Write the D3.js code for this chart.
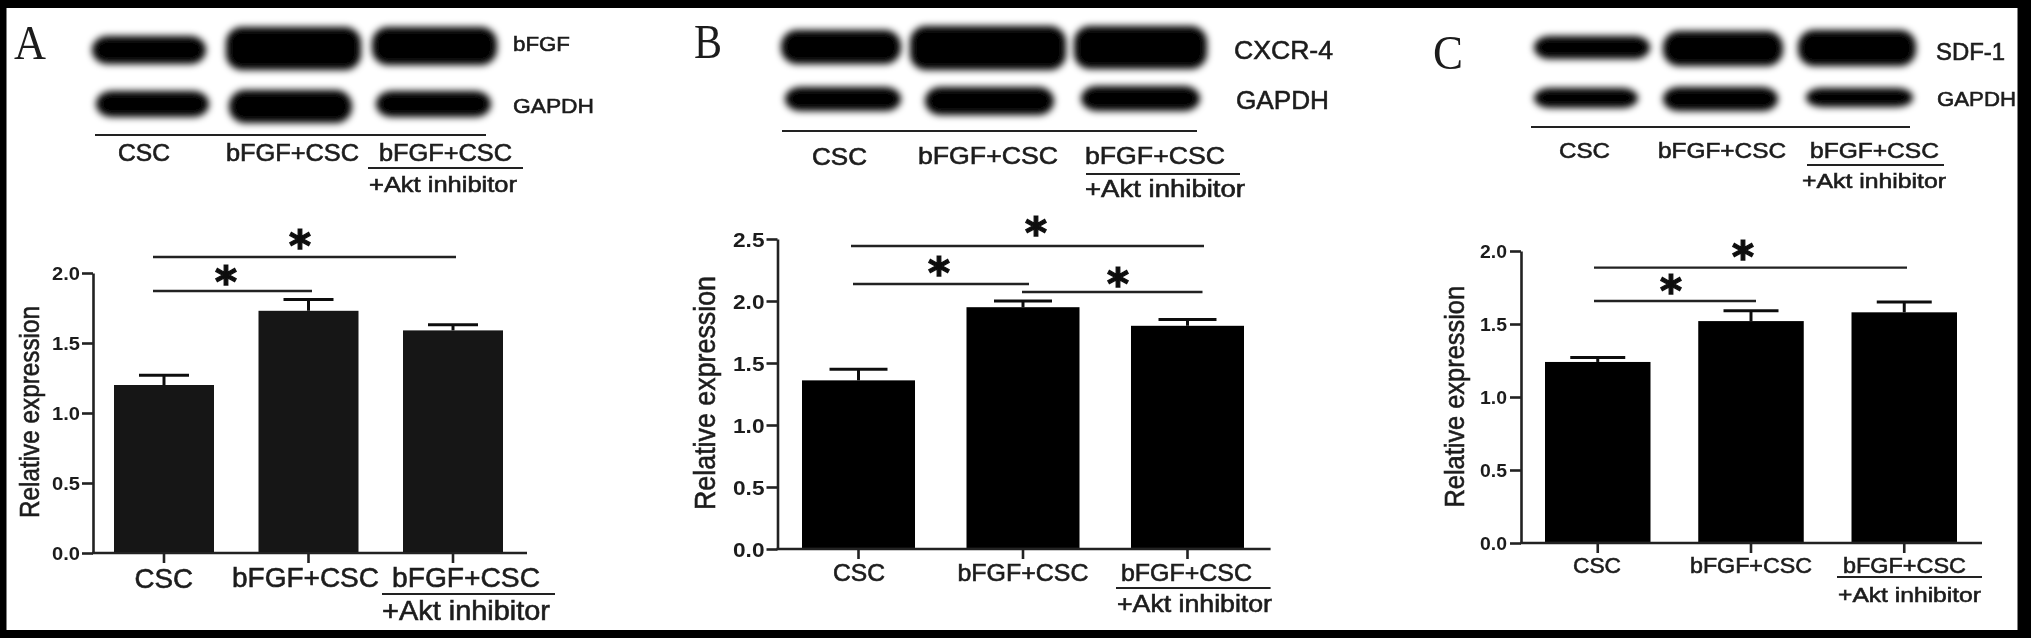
<!DOCTYPE html>
<html>
<head>
<meta charset="utf-8">
<script src="https://cdn.jsdelivr.net/npm/d3@7"></script>
<style>
  html, body { margin: 0; padding: 0; background: #000; }
  text { font-family: "Liberation Sans", Arial, sans-serif; fill: #1c1c1c; }
</style>
</head>
<body>
<div id="chart"></div>
<script>
// -> chart values
var categories = ["CSC", "bFGF+CSC", "bFGF+CSC"];
var treatmentNote = "+Akt inhibitor";
var yTitle = "Relative expression";

var valuesA = [1.20, 1.73, 1.59];
var errorTopA = [1.27, 1.81, 1.63];
var ticksA = [0, 0.5, 1, 1.5, 2];

var valuesB = [1.36, 1.95, 1.80];
var errorTopB = [1.45, 2.00, 1.85];
var ticksB = [0, 0.5, 1, 1.5, 2, 2.5];

var valuesC = [1.24, 1.52, 1.58];
var errorTopC = [1.27, 1.59, 1.65];
var ticksC = [0, 0.5, 1, 1.5, 2];

// -> panel layout in pixels
var panels = [
  {
    letter: "A", letterBox: [14, 46, 59, 48],
    values: valuesA, errorTop: errorTopA, ticks: ticksA, yMax: 2,
    axisX: 93, axisEnd: 527, y0: 553, yTop: 273, bars: [114, 503], inner: 0.308, cap: 50,
    barColor: "#141414",
    tickFont: 19, tickLabel: [52, 80],
    title: [29.5, 306, 518, 28],
    blots: [[91, 207, 35, 65], [225, 362, 26, 71], [371, 498, 26, 66], [95, 210, 90, 118], [228, 353, 89, 124], [375, 492, 90, 118]],
    blotLabels: [["bFGF", 513, 570, 51, 21], ["GAPDH", 513, 594, 113, 21]],
    blotRule: [95, 486, 135],
    blotCats: [[118, 170, 161], [226, 359, 161], [379, 512, 161]], blotCatFont: 23,
    blotNote: [369, 517, 192], blotNoteRule: [368, 523, 168],
    xCats: [[134.5, 193, 588], [232, 379, 587], [392, 540, 587]], xCatFont: 28,
    xNote: [382, 550, 620], xNoteRule: [382, 555, 594],
    sig: [[153, 456, 257], [153, 312, 291]],
    stars: [[300, 240], [226, 276]]
  },
  {
    letter: "B", letterBox: [694, 722, 58, 48],
    values: valuesB, errorTop: errorTopB, ticks: ticksB, yMax: 2.5,
    axisX: 777.5, axisEnd: 1270.6, y0: 549, yTop: 239, bars: [802, 1244], inner: 0.313, cap: 58,
    barColor: "#000",
    tickFont: 20, tickLabel: [733, 764.5],
    title: [705, 276, 510, 30],
    blots: [[780, 902, 29, 65], [909, 1067, 25, 71], [1073, 1208, 25, 70], [784, 902, 86, 112], [924, 1055, 86, 116], [1080, 1201, 85, 112]],
    blotLabels: [["CXCR-4", 1234, 1333, 59, 26], ["GAPDH", 1236, 1329, 109, 26]],
    blotRule: [782, 1197, 131],
    blotCats: [[812, 867, 165], [918, 1058, 164], [1085, 1225, 164]], blotCatFont: 24,
    blotNote: [1085, 1245, 197], blotNoteRule: [1086, 1240, 174],
    xCats: [[833, 885, 581], [957.5, 1088.5, 581], [1121, 1252, 581]], xCatFont: 24,
    xNote: [1117, 1272, 612], xNoteRule: [1116, 1270.6, 588],
    sig: [[851, 1204, 246], [853, 1029, 284], [1022, 1202.5, 292]],
    stars: [[1036, 227], [939, 267], [1118, 278]]
  },
  {
    letter: "C", letterBox: [1433, 1463, 69, 48],
    values: valuesC, errorTop: errorTopC, ticks: ticksC, yMax: 2,
    axisX: 1521, axisEnd: 1982, y0: 543, yTop: 251, bars: [1545, 1957], inner: 0.3116, cap: 55,
    barColor: "#000",
    tickFont: 19, tickLabel: [1480, 1507],
    title: [1454, 286, 507.5, 28],
    blots: [[1533, 1651, 35, 60], [1662, 1784, 30, 67], [1797, 1917, 29, 67], [1533, 1639, 87, 109], [1662, 1779, 86, 112], [1805, 1914, 87, 108]],
    blotLabels: [["SDF-1", 1936, 2005, 60, 23], ["GAPDH", 1937, 2016, 106, 21]],
    blotRule: [1531, 1910, 127],
    blotCats: [[1559, 1610, 158], [1658, 1786, 158], [1810, 1939, 158]], blotCatFont: 22,
    blotNote: [1802, 1946, 188], blotNoteRule: [1807, 1944, 165],
    xCats: [[1573, 1621, 572.5], [1690, 1812, 572.5], [1843, 1966, 572.5]], xCatFont: 22,
    xNote: [1838, 1981, 602], xNoteRule: [1837, 1982, 577],
    sig: [[1594, 1907, 267.6], [1594, 1756, 301]],
    stars: [[1743, 251], [1671, 285]]
  }
];

var width = 2031, height = 638;
var textStroke = 0.6;

var svg = d3.select("#chart").append("svg")
  .attr("width", width)
  .attr("height", height)
  .style("display", "block");

var defs = svg.append("defs");
defs.append("filter").attr("id", "blot")
  .attr("x", "-20%").attr("y", "-40%").attr("width", "140%").attr("height", "180%")
  .append("feGaussianBlur").attr("stdDeviation", 3.6);
defs.append("filter").attr("id", "soft")
  .attr("filterUnits", "userSpaceOnUse")
  .attr("x", 0).attr("y", 0).attr("width", width).attr("height", height)
  .append("feGaussianBlur").attr("stdDeviation", 0.7);

//-> black frame round the white figure
svg.append("rect").attr("width", width).attr("height", height).attr("fill", "#000");
var root = svg.append("g").attr("filter", "url(#soft)");
root.append("rect")
  .attr("x", 6.5).attr("y", 8)
  .attr("width", 2011).attr("height", 622)
  .attr("fill", "#fff");

//-> text squeezed into the span it has in the picture
function fitText(g, str, x0, x1, baseline, size) {
  return g.append("text")
    .attr("x", x0)
    .attr("y", baseline)
    .attr("textLength", x1 - x0)
    .attr("lengthAdjust", "spacingAndGlyphs")
    .style("font-size", size + "px")
    .style("stroke", "#1c1c1c")
    .style("stroke-width", textStroke)
    .text(str);
}

function rule(g, x0, x1, y, w) {
  g.append("line")
    .attr("x1", x0).attr("x2", x1)
    .attr("y1", y).attr("y2", y)
    .attr("stroke", "#222")
    .attr("stroke-width", w || 2.2);
}

panels.forEach(function(p) {
  var g = root.append("g").attr("class", "panel");

  fitText(g, p.letter, p.letterBox[0], p.letterBox[1], p.letterBox[2], p.letterBox[3])
    .style("font-family", "'Liberation Serif', serif")
    .style("stroke-width", 0);

  //-> western blot bands
  g.selectAll("rect.band")
    .data(p.blots)
    .enter().append("rect")
    .attr("class", "band")
    .attr("x", function(d) { return d[0] + 1; })
    .attr("y", function(d) { return d[2] + 1; })
    .attr("width", function(d) { return d[1] - d[0] - 2; })
    .attr("height", function(d) { return d[3] - d[2] - 2; })
    .attr("rx", 16)
    .attr("fill", "#040404")
    .attr("filter", "url(#blot)");

  p.blotLabels.forEach(function(d) {
    fitText(g, d[0], d[1], d[2], d[3], d[4]);
  });
  rule(g, p.blotRule[0], p.blotRule[1], p.blotRule[2]);
  categories.forEach(function(c, i) {
    var b = p.blotCats[i];
    fitText(g, c, b[0], b[1], b[2], p.blotCatFont);
  });
  rule(g, p.blotNoteRule[0], p.blotNoteRule[1], p.blotNoteRule[2]);
  fitText(g, treatmentNote, p.blotNote[0], p.blotNote[1], p.blotNote[2], p.blotCatFont - 1);

  //-> scales
  var x = d3.scaleBand()
    .domain(d3.range(p.values.length))
    .range(p.bars)
    .paddingInner(p.inner);
  var y = d3.scaleLinear().domain([0, p.yMax]).range([p.y0, p.yTop]);

  //-> error bars go under the bars
  var err = g.selectAll("g.err")
    .data(p.values)
    .enter().append("g")
    .attr("class", "err");
  err.append("line")
    .attr("x1", function(d, i) { return x(i) + x.bandwidth() / 2; })
    .attr("x2", function(d, i) { return x(i) + x.bandwidth() / 2; })
    .attr("y1", function(d) { return y(d); })
    .attr("y2", function(d, i) { return y(p.errorTop[i]); })
    .attr("stroke", "#111").attr("stroke-width", 3);
  err.append("line")
    .attr("x1", function(d, i) { return x(i) + x.bandwidth() / 2 - p.cap / 2; })
    .attr("x2", function(d, i) { return x(i) + x.bandwidth() / 2 + p.cap / 2; })
    .attr("y1", function(d, i) { return y(p.errorTop[i]); })
    .attr("y2", function(d, i) { return y(p.errorTop[i]); })
    .attr("stroke", "#111").attr("stroke-width", 3);

  g.selectAll("rect.bar")
    .data(p.values)
    .enter().append("rect")
    .attr("class", "bar")
    .attr("x", function(d, i) { return x(i); })
    .attr("y", function(d) { return y(d); })
    .attr("width", x.bandwidth())
    .attr("height", function(d) { return y(0) - y(d); })
    .attr("fill", p.barColor);

  //-> axes
  var yAxis = g.append("g")
    .attr("transform", "translate(" + p.axisX + ",0)")
    .call(d3.axisLeft(y).tickValues(p.ticks).tickFormat(d3.format(".1f")).tickSize(11).tickSizeOuter(0));
  yAxis.selectAll("path.domain, line").attr("stroke", "#222").attr("stroke-width", 2.6);
  yAxis.selectAll("text")
    .attr("x", p.tickLabel[0] - p.axisX)
    .attr("dy", "0.36em")
    .attr("text-anchor", "start")
    .attr("textLength", p.tickLabel[1] - p.tickLabel[0])
    .attr("lengthAdjust", "spacingAndGlyphs")
    .style("font-family", "'Liberation Sans', sans-serif")
    .style("font-size", p.tickFont + "px")
    .style("font-weight", "bold");

  var xAxis = g.append("g")
    .attr("transform", "translate(0," + p.y0 + ")")
    .call(d3.axisBottom(x).tickFormat("").tickSize(10).tickSizeOuter(0));
  xAxis.select("path.domain").remove();
  xAxis.selectAll("line").attr("stroke", "#222").attr("stroke-width", 2.6);
  rule(g, p.axisX - 1, p.axisEnd, p.y0, 2.6);

  //-> rotated axis title
  g.append("text")
    .attr("transform", "translate(" + (p.title[0] + p.title[3] * 0.34) + "," + p.title[2] + ") rotate(-90)")
    .attr("textLength", p.title[2] - p.title[1])
    .attr("lengthAdjust", "spacingAndGlyphs")
    .style("font-size", p.title[3] + "px")
    .style("stroke", "#1c1c1c").style("stroke-width", textStroke)
    .text(yTitle);

  //-> category labels under the axis
  categories.forEach(function(c, i) {
    var b = p.xCats[i];
    fitText(g, c, b[0], b[1], b[2], p.xCatFont);
  });
  rule(g, p.xNoteRule[0], p.xNoteRule[1], p.xNoteRule[2]);
  fitText(g, treatmentNote, p.xNote[0], p.xNote[1], p.xNote[2], p.xCatFont - 1);

  //-> significance lines and stars
  p.sig.forEach(function(s) { rule(g, s[0], s[1], s[2], 2.4); });
  g.selectAll("text.star")
    .data(p.stars)
    .enter().append("text")
    .attr("class", "star")
    .attr("x", function(d) { return d[0]; })
    .attr("y", function(d) { return d[1] + 21; })
    .attr("text-anchor", "middle")
    .style("font-family", "'DejaVu Sans', sans-serif")
    .style("font-weight", "bold")
    .style("font-size", "42px")
    .style("fill", "#111")
    .style("stroke", "#111")
    .style("stroke-width", 1.4)
    .text("*");
});
</script>
</body>
</html>
